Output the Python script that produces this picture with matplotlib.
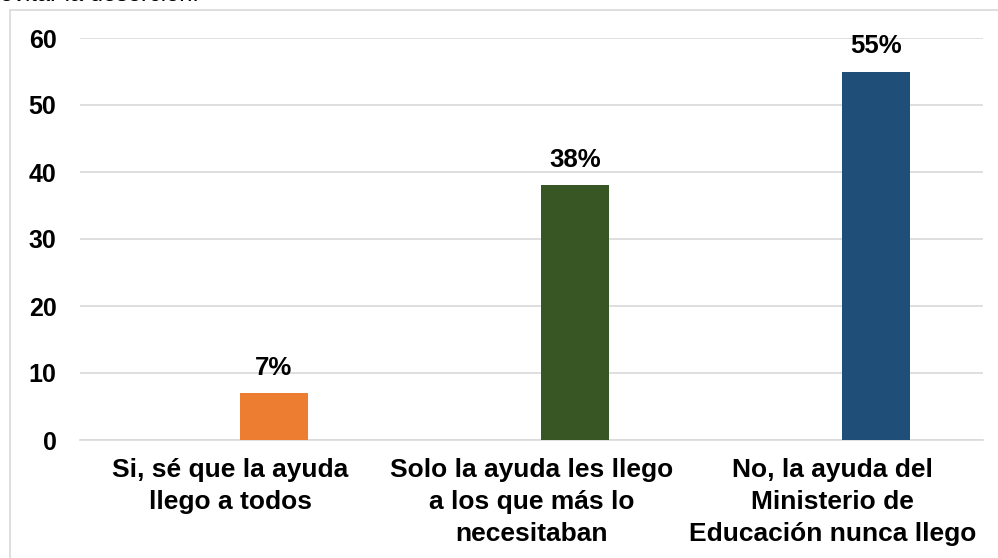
import matplotlib
matplotlib.use("Agg")
import matplotlib.pyplot as plt
from matplotlib.patches import Rectangle

categories = ["Si, sé que la ayuda\nllego a todos",
              "Solo la ayuda les llego\na los que más lo\nnecesitaban",
              "No, la ayuda del\nMinisterio de\nEducación nunca llego"]
values = [7, 38, 55]
labels = ["7%", "38%", "55%"]
colors = ["#ED7D31", "#375623", "#1F4E79"]
yticks = [0, 10, 20, 30, 40, 50, 60]

W, H = 998, 558
fig = plt.figure(figsize=(W / 100, H / 100), dpi=100)
plt.rcParams['font.family'] = ['Liberation Sans', 'DejaVu Sans']

# outer border
fig.patches.append(Rectangle((10 / W, -0.1), 1.2, 1 - 10 / H + 0.1, transform=fig.transFigure,
                             fill=False, edgecolor="#d9d9d9", linewidth=1.2))
fig.text(0.0, 1 - 1 / H, "evitar la deserción.", fontsize=17, va='baseline', ha='left', color='black')

FS = 18
ax = fig.add_axes([80 / W, (H - 440) / H, (983 - 80) / W, (440 - 38) / H])
x = list(range(len(values)))
offset = 0.1445
bw = 0.226
bars = ax.bar([i + offset for i in x], values, width=bw, color=colors, zorder=3)
for i, v in enumerate(values):
    ax.annotate(labels[i], (i + offset, v), xytext=(0, 13), textcoords='offset points',
                ha='center', va='baseline', fontsize=FS + 0.5, fontweight='bold')

ax.set_xlim(-0.5, 2.5)
ax.set_ylim(0, 60)
ax.set_yticks(yticks)
ax.set_yticklabels([str(t) for t in yticks], fontsize=FS, fontweight='bold')
ax.set_xticks(x)
ax.set_xticklabels(categories, fontsize=19, fontweight='bold', linespacing=1.42)
ax.tick_params(axis='both', length=0)
ax.tick_params(axis='y', pad=17)
ax.tick_params(axis='x', pad=13)
ax.grid(axis='y', color='#d9d9d9', linewidth=1.2, zorder=0)
for s in ['top', 'right', 'left']:
    ax.spines[s].set_visible(False)
ax.spines['bottom'].set_color('#d9d9d9')
ax.spines['bottom'].set_linewidth(1.2)

fig.savefig("out.png", dpi=100)
